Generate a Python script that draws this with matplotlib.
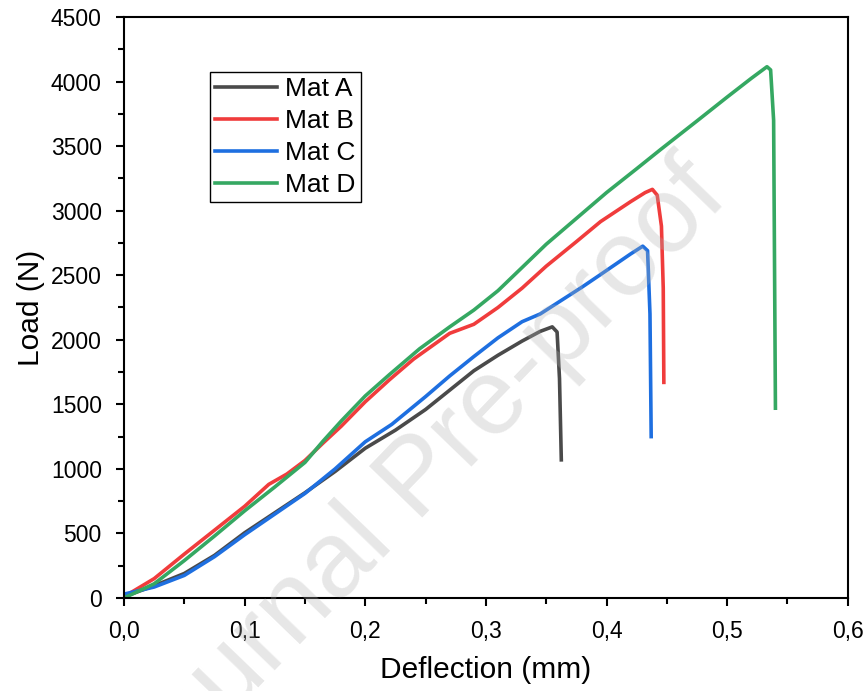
import numpy as np
import matplotlib
matplotlib.use('Agg')
import matplotlib.pyplot as plt
from matplotlib.ticker import MultipleLocator

plt.rcParams['font.family'] = ['Liberation Sans', 'DejaVu Sans']

# ---- data ----
xA = [0, 0.025, 0.05, 0.075, 0.1, 0.125, 0.15, 0.175, 0.2, 0.225, 0.25, 0.27, 0.29, 0.31,
      0.33, 0.345, 0.355, 0.359, 0.361, 0.3625]
yA = [10, 95, 190, 330, 505, 660, 815, 980, 1160, 1300, 1460, 1610, 1760, 1880,
      1990, 2065, 2100, 2060, 1700, 1070]

xB = [0, 0.025, 0.05, 0.075, 0.1, 0.12, 0.135, 0.15, 0.165, 0.18, 0.2, 0.22, 0.24, 0.27,
      0.29, 0.31, 0.33, 0.35, 0.375, 0.395, 0.42, 0.432, 0.438, 0.442, 0.4455, 0.447, 0.4475]
yB = [10, 150, 340, 525, 710, 880, 960, 1065, 1200, 1330, 1520, 1690, 1850, 2050,
      2120, 2250, 2400, 2570, 2760, 2915, 3070, 3140, 3165, 3120, 2880, 2400, 1670]

xC = [0, 0.025, 0.05, 0.075, 0.1, 0.125, 0.15, 0.175, 0.2, 0.222, 0.25, 0.27, 0.29, 0.31,
      0.33, 0.345, 0.36, 0.38, 0.395, 0.42, 0.43, 0.434, 0.436, 0.437]
yC = [30, 85, 175, 320, 490, 650, 810, 1000, 1210, 1345, 1560, 1720, 1870, 2015,
      2140, 2200, 2290, 2410, 2505, 2665, 2725, 2690, 2200, 1250]

xD = [0, 0.025, 0.05, 0.075, 0.1, 0.125, 0.15, 0.165, 0.18, 0.2, 0.22, 0.245, 0.27, 0.29,
      0.31, 0.33, 0.35, 0.375, 0.4, 0.425, 0.445, 0.475, 0.5, 0.52, 0.533, 0.536, 0.5385, 0.54]
yD = [0, 110, 290, 480, 675, 860, 1050, 1215, 1370, 1565, 1730, 1930, 2100, 2230,
      2380, 2560, 2740, 2940, 3140, 3325, 3475, 3695, 3880, 4025, 4115, 4090, 3700, 1470]

labels = ['Mat A', 'Mat B', 'Mat C', 'Mat D']
colors = ['#4a4a4a', '#f03c3c', '#1e6fe0', '#35a862']
xticks = [0.0, 0.1, 0.2, 0.3, 0.4, 0.5, 0.6]
xticklabels = ['0,0', '0,1', '0,2', '0,3', '0,4', '0,5', '0,6']
yticks = [0, 500, 1000, 1500, 2000, 2500, 3000, 3500, 4000, 4500]
#-------------------------

fig = plt.figure(figsize=(8.66, 6.91), dpi=100)
ax = fig.add_axes([0.1432, 0.1346, 0.8358, 0.8408])

for xs, ys, lab, col in zip([xA, xB, xC, xD], [yA, yB, yC, yD], labels, colors):
    ax.plot(xs, ys, color=col, linewidth=2.6, label=lab, solid_joinstyle='round')

ax.set_xlim(0, 0.6)
ax.set_ylim(0, 4500)
ax.set_xticks(xticks)
ax.set_xticklabels(xticklabels)
ax.set_yticks(yticks)
ax.xaxis.set_minor_locator(MultipleLocator(0.05))
ax.yaxis.set_minor_locator(MultipleLocator(250))
ax.tick_params(which='major', direction='out', length=6, width=1.5, labelsize=16.5, pad=10)
ax.tick_params(which='minor', direction='out', length=4, width=1.5)
for s in ax.spines.values():
    s.set_linewidth(1.5)

ax.set_xlabel('Deflection (mm)', fontsize=21.5, labelpad=9)
ax.set_ylabel('Load (N)', fontsize=21.5, labelpad=4)

leg = ax.legend(loc='upper left', bbox_to_anchor=(0.119, 0.905), borderaxespad=0,
                fontsize=19, handlelength=2.35, handletextpad=0.3, labelspacing=0.3,
                borderpad=0.2, fancybox=False, framealpha=1, edgecolor='black')
leg.get_frame().set_linewidth(1.0)

# watermark
fig.text(0.485, 0.305, 'Journal Pre-proof', fontsize=78, color='#b0b0b0', alpha=0.3,
         rotation=46, ha='center', va='center', zorder=10)

fig.savefig('out.png', dpi=100)
